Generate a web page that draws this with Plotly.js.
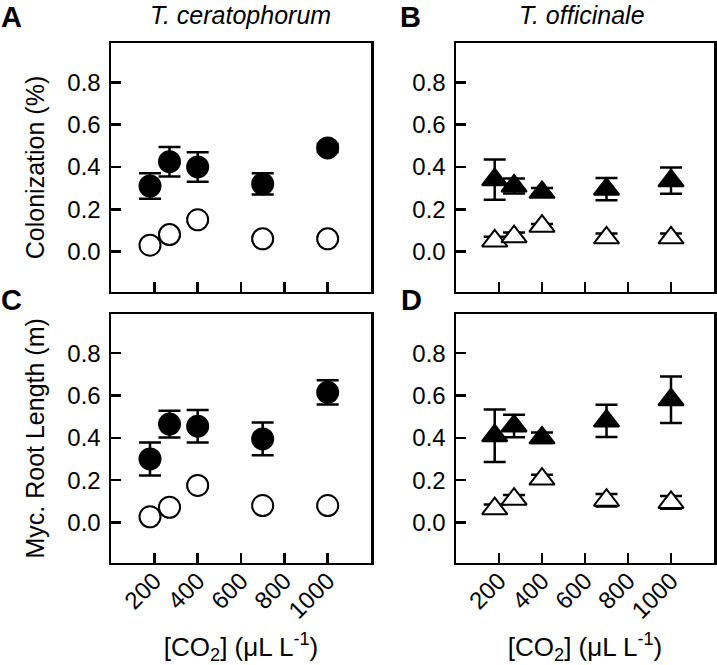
<!DOCTYPE html>
<html>
<head>
<meta charset="utf-8">
<script src="https://cdn.plot.ly/plotly-3.0.1.min.js"></script>
<style>html,body{margin:0;padding:0;background:#fff;}#plot{width:717px;height:665px;}</style>
</head>
<body>
<div id="plot"></div>
<script>
// CO2 levels (µL L-1)
const co2 = [180, 270, 400, 700, 1000];
const xTickVals = [200, 400, 600, 800, 1000];
const yTickVals = [0.0, 0.2, 0.4, 0.6, 0.8];

// Panel A: T. ceratophorum colonization
const aFilled = [0.31, 0.425, 0.40, 0.32, 0.49];
const aFilledErr = [0.06, 0.07, 0.07, 0.05, 0.02];
const aOpen = [0.03, 0.08, 0.15, 0.06, 0.06];
const aOpenErr = [0.01, 0.01, 0.01, 0.01, 0.01];

// Panel B: T. officinale colonization
const bFilled = [0.34, 0.31, 0.28, 0.295, 0.335];
const bFilledErr = [0.095, 0.035, 0.02, 0.053, 0.062];
const bOpen = [0.05, 0.07, 0.12, 0.065, 0.065];
const bOpenErr = [0.02, 0.02, 0.01, 0.02, 0.02];

// Panel C: T. ceratophorum mycorrhizal root length
const cFilled = [0.30, 0.465, 0.455, 0.395, 0.615];
const cFilledErr = [0.078, 0.063, 0.077, 0.077, 0.057];
const cOpen = [0.027, 0.072, 0.175, 0.08, 0.08];
const cOpenErr = [0.01, 0.01, 0.01, 0.01, 0.01];

// Panel D: T. officinale mycorrhizal root length
const dFilled = [0.41, 0.456, 0.40, 0.48, 0.58];
const dFilledErr = [0.124, 0.053, 0.025, 0.076, 0.11];
const dOpen = [0.065, 0.11, 0.205, 0.105, 0.095];
const dOpenErr = [0.02, 0.02, 0.02, 0.03, 0.03];

const FONT = 'Liberation Sans, Arial, Helvetica, sans-serif';

function tr(y, err, xa, ya, symbol, filled) {
  return {
    x: co2, y: y, xaxis: xa, yaxis: ya, type: 'scatter', mode: 'markers',
    showlegend: false, hoverinfo: 'x+y',
    error_y: {type: 'data', array: err, visible: true, color: '#000', thickness: 2.5, width: 11},
    marker: {
      symbol: symbol,
      size: symbol === 'circle' ? 21 : 22,
      color: filled ? '#000' : '#fff',
      line: {color: '#000', width: 2}
    }
  };
}

const data = [
  tr(aFilled, aFilledErr, 'x', 'y', 'circle', true),
  tr(aOpen, aOpenErr, 'x', 'y', 'circle', false),
  tr(bFilled, bFilledErr, 'x2', 'y2', 'triangle-up', true),
  tr(bOpen, bOpenErr, 'x2', 'y2', 'triangle-up', false),
  tr(cFilled, cFilledErr, 'x3', 'y3', 'circle', true),
  tr(cOpen, cOpenErr, 'x3', 'y3', 'circle', false),
  tr(dFilled, dFilledErr, 'x4', 'y4', 'triangle-up', true),
  tr(dOpen, dOpenErr, 'x4', 'y4', 'triangle-up', false)
];

const W = 717, H = 665;
const colL = [111 / W, 371 / W];
const colR = [456 / W, 714 / W];
const rowT = [(H - 291.7) / H, (H - 43.3) / H];
const rowB = [(H - 562.7) / H, (H - 314) / H];

function xax(domain, anchor, labels) {
  const o = {
    domain: domain, anchor: anchor, range: [0, 1200],
    tickmode: 'array', tickvals: xTickVals, ticktext: xTickVals.map(String),
    ticks: 'inside', ticklen: 10, tickwidth: 2.5, tickcolor: '#000',
    showline: true, mirror: true, linewidth: 2.5, linecolor: '#000',
    showgrid: false, zeroline: false, showticklabels: labels,
    tickangle: -45, tickfont: {family: FONT, size: 24, color: '#000'},
    ticklabelstandoff: -8,
    automargin: false
  };
  if (labels) {
    o.title = {text: '[CO<sub>2</sub>] (μL L<sup>-1</sup>)', font: {family: FONT, size: 26, color: '#000'}, standoff: 17};
  }
  return o;
}
function yax(domain, anchor, title) {
  const o = {
    domain: domain, anchor: anchor, range: [-0.19, 0.985],
    tickmode: 'array', tickvals: yTickVals, ticktext: yTickVals.map(v => v.toFixed(1)),
    ticks: 'inside', ticklen: 10, tickwidth: 2.5, tickcolor: '#000',
    showline: true, mirror: true, linewidth: 2.5, linecolor: '#000',
    showgrid: false, zeroline: false, ticklabelstandoff: 3,
    tickfont: {family: FONT, size: 24, color: '#000'},
    automargin: false
  };
  if (title) o.title = {text: title, font: {family: FONT, size: 25, color: '#000'}, standoff: 16};
  return o;
}

const ann = (text, x, y, opts) => Object.assign({
  text: text, x: x / W, y: 1 - y / H, xref: 'paper', yref: 'paper',
  showarrow: false, xanchor: 'center', yanchor: 'middle'
}, opts || {});

const layout = {
  width: W, height: H,
  margin: {l: 0, r: 0, t: 0, b: 0},
  paper_bgcolor: '#fff', plot_bgcolor: '#fff',
  font: {family: FONT, color: '#000'},
  xaxis: xax(colL, 'y', false),
  yaxis: yax(rowT, 'x', 'Colonization (%)'),
  xaxis2: xax(colR, 'y2', false),
  yaxis2: yax(rowT, 'x2', null),
  xaxis3: xax(colL, 'y3', true),
  yaxis3: yax(rowB, 'x3', 'Myc. Root Length (m)'),
  xaxis4: xax(colR, 'y4', true),
  yaxis4: yax(rowB, 'x4', null),
  annotations: [
    ann('<b>A</b>', 12, 0, {yanchor: 'top', borderpad: 0, font: {family: FONT, size: 29, color: '#000'}}),
    ann('<b>B</b>', 410, 0, {yanchor: 'top', borderpad: 0, font: {family: FONT, size: 29, color: '#000'}}),
    ann('<b>C</b>', 11, 300, {font: {family: FONT, size: 29, color: '#000'}}),
    ann('<b>D</b>', 411, 300, {font: {family: FONT, size: 29, color: '#000'}}),
    ann('<i>T. ceratophorum</i>', 240, 0, {yanchor: 'top', borderpad: 0, font: {family: FONT, size: 25, color: '#000'}}),
    ann('<i>T. officinale</i>', 582, 0, {yanchor: 'top', borderpad: 0, font: {family: FONT, size: 25, color: '#000'}})
  ]
};

Plotly.newPlot('plot', data, layout, {staticPlot: true, displayModeBar: false});
</script>
</body>
</html>
